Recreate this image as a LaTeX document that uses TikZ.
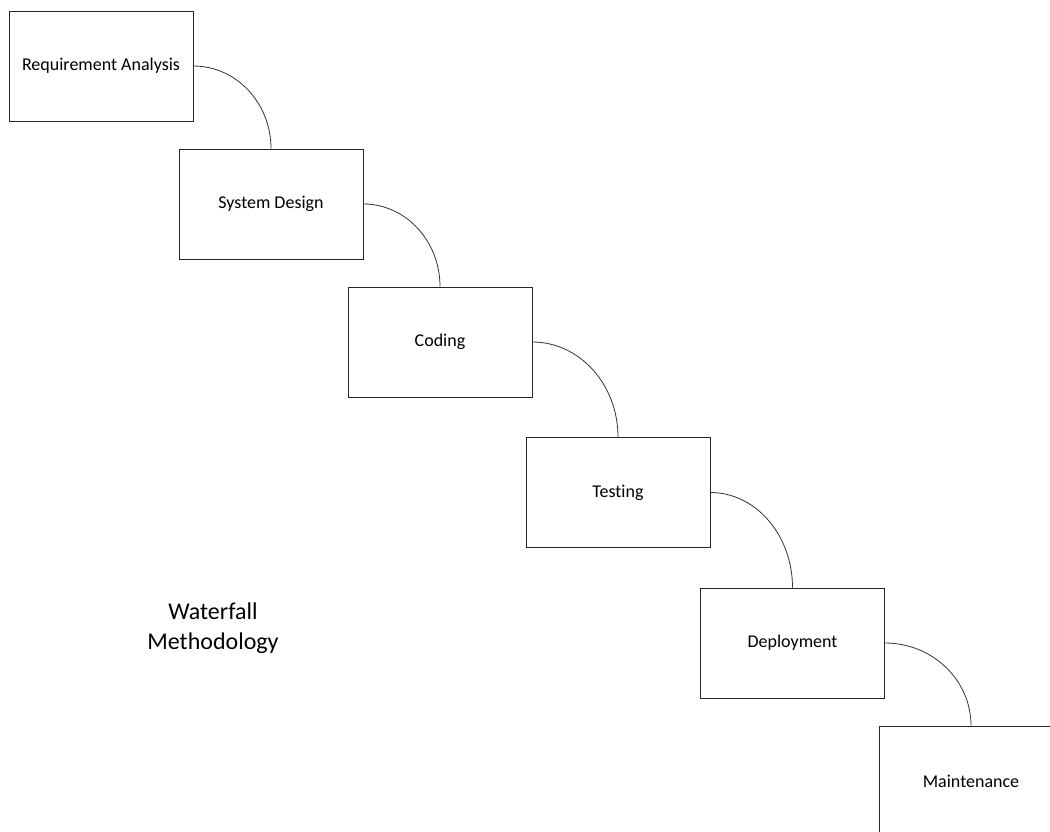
\documentclass[tikz,border=0pt]{standalone}
\usepackage{fontspec}
\setmainfont{Carlito}[Ligatures=NoCommon]
\usetikzlibrary{calc}
\begin{document}
\begin{tikzpicture}[x=1pt,y=-1pt,
  phase/.style={draw=black!85, line width=0.8pt, fill=white, minimum width=184pt,
    minimum height=110pt, inner sep=0pt, font=\fontsize{18}{21}\selectfont},
  link/.style={draw=black!80, line width=0.8pt}]
  \useasboundingbox (0,0) rectangle (1050,831);
  \clip (0,0) rectangle (1050,831);
  \fill[white] (0,0) rectangle (1050,831);

  \node[phase] (req)  at (101,66)    {Requirement Analysis};
  \node[phase] (des)  at (271,204)   {System Design};
  \node[phase] (cod)  at (440,342)   {Coding};
  \node[phase] (tst)  at (618,492.5) {Testing};
  \node[phase] (dep)  at (792.5,643) {Deployment};
  \node[phase] (mnt)  at (971,781)   {Maintenance};

  \node[font=\fontsize{24}{30}\selectfont, align=center] (title) at (213,628)
    {Waterfall\\Methodology};

  % quarter-ellipse links from the right side of one phase to the top of the next
  \foreach \a/\b in {req/des, des/cod, cod/tst, tst/dep, dep/mnt}{
    \draw[link] let \p1=(\a.east), \p2=(\b.north) in
      (\p1) arc[start angle=90, end angle=0, x radius={\x2-\x1}, y radius={\y1-\y2}];
  }
\end{tikzpicture}
\end{document}
